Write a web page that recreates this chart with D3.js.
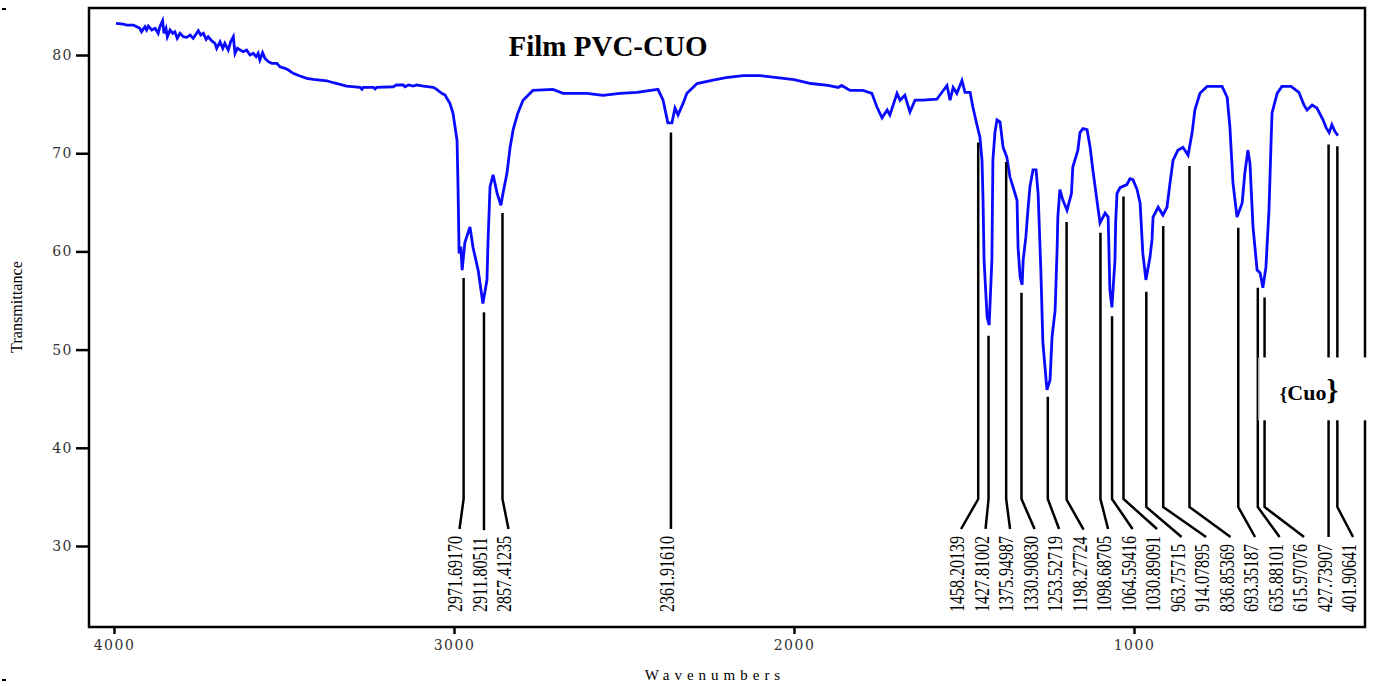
<html lang="en">
<head>
    <title>Film PVC-CUO</title>
    <style>
        body {
            margin: 0;
            background: #fff;
        }

        .tick text {
            font-family: "DejaVu Serif", serif;
            font-size: 14px;
            letter-spacing: 1.5px;
            fill: #333;
        }

        .tick line {
            stroke: #000;
            stroke-width: 2.5px;
        }

        .peak-label {
            font-family: "Liberation Serif", serif;
            font-size: 20px;
            fill: #000;
        }
    </style>
</head>
<body>
<div id="chart"></div>
<script src="https://cdn.jsdelivr.net/npm/d3@7"></script>
<script>
    // spectrum (wavenumber, transmittance)
    const wavenumbers = [3994, 3973, 3963, 3943, 3933, 3924, 3919, 3909, 3904, 3899, 3889, 3879, 3870, 3865, 3857, 3853,
        3847, 3843, 3835, 3827, 3821, 3814, 3806, 3796, 3786, 3776, 3767, 3757, 3752, 3745, 3737, 3729, 3723, 3713, 3703,
        3698, 3688, 3680, 3674, 3664, 3657, 3649, 3644, 3637, 3629, 3620, 3610, 3600, 3590, 3582, 3576, 3571, 3563, 3556,
        3546, 3536, 3521, 3512, 3497, 3487, 3473, 3453, 3433, 3414, 3394, 3374, 3355, 3335, 3316, 3276, 3271, 3267, 3237,
        3232, 3227, 3179, 3169, 3149, 3144, 3134, 3120, 3110, 3090, 3061, 3051, 3036, 3026, 3021, 3012, 3003, 2991, 2988,
        2985, 2980, 2976, 2968, 2953, 2944, 2929, 2915, 2903, 2900, 2894, 2885, 2873, 2862, 2856, 2844, 2835, 2826, 2812,
        2797, 2768, 2709, 2679, 2609, 2562, 2512, 2462, 2400, 2385, 2371, 2359, 2350, 2341, 2326, 2315, 2285, 2238, 2200,
        2150, 2100, 2050, 2000, 1950, 1900, 1870, 1860, 1835, 1797, 1771, 1756, 1741, 1726, 1718, 1697, 1688, 1674, 1659,
        1644, 1621, 1580, 1550, 1541, 1532, 1521, 1506, 1497, 1482, 1474, 1462, 1453, 1447, 1444, 1441, 1432, 1426, 1418,
        1415, 1409, 1403, 1394, 1385, 1374, 1365, 1350, 1344, 1341, 1335, 1329, 1326, 1318, 1312, 1306, 1297, 1288, 1282,
        1274, 1268, 1256, 1247, 1241, 1232, 1226, 1224, 1218, 1209, 1197, 1184, 1180, 1165, 1159, 1150, 1138, 1129, 1121,
        1109, 1100, 1085, 1076, 1071, 1065, 1056, 1054, 1050, 1041, 1021, 1012, 1003, 991, 982, 974, 965, 953, 947, 944,
        929, 915, 903, 894, 885, 871, 856, 841, 829, 821, 806, 785, 741, 726, 718, 709, 697, 682, 674, 665, 659, 650, 638,
        629, 621, 612, 603, 597, 594, 579, 565, 538, 515, 500, 491, 476, 462, 444, 435, 426, 418, 409, 400];
    const transmittance = [83.23, 83.16, 83.05, 83.05, 82.88, 82.72, 82.37, 82.88, 82.55, 82.95, 82.55, 82.72, 82.21,
        82.88, 83.49, 82.21, 82.72, 81.86, 82.55, 82.21, 82.37, 81.7, 82.21, 81.86, 81.8, 82.04, 81.7, 82.21, 82.47, 82.04,
        82.21, 81.6, 81.86, 81.46, 81.19, 80.68, 81.35, 80.68, 81.19, 80.51, 81.35, 81.86, 80.17, 80.68, 80.51, 80.34,
        80.51, 80.0, 80.17, 79.83, 80.17, 79.49, 80.23, 79.66, 79.32, 79.15, 79.15, 78.81, 78.65, 78.47, 78.14, 77.86,
        77.63, 77.53, 77.45, 77.38, 77.18, 77.01, 76.84, 76.71, 76.51, 76.71, 76.71, 76.54, 76.71, 76.77, 76.95, 76.95,
        76.77, 76.95, 76.84, 76.95, 76.84, 76.71, 76.51, 76.1, 75.93, 75.59, 75.08, 74.1, 71.3, 66.3, 59.8, 60.5, 58.1,
        60.9, 62.5, 60.4, 58.1, 54.7, 57.1, 60.9, 66.6, 67.8, 65.9, 64.7, 65.9, 68.0, 70.6, 72.4, 74.1, 75.4, 76.4, 76.5,
        76.1, 76.1, 75.9, 76.1, 76.2, 76.5, 75.4, 73.1, 73.1, 74.6, 73.9, 75.1, 76.1, 77.1, 77.45, 77.7, 77.9, 77.9, 77.7,
        77.5, 77.1, 76.9, 76.7, 76.9, 76.4, 76.4, 76.1, 74.7, 73.6, 74.4, 73.9, 76.1, 75.4, 75.9, 74.2, 75.4, 75.4, 75.5,
        76.9, 75.4, 76.7, 76.1, 77.4, 76.2, 76.2, 74.7, 72.9, 71.6, 69.3, 65.2, 59.1, 53.3, 52.5, 59.1, 69.3, 72.1, 73.4,
        73.2, 70.6, 69.6, 67.6, 65.9, 65.2, 60.4, 57.4, 56.6, 59.1, 61.5, 64.2, 66.6, 68.3, 68.3, 65.9, 58.1, 50.7, 45.9,
        46.9, 51.3, 54.0, 60.4, 63.5, 66.3, 65.2, 64.2, 65.9, 68.6, 70.3, 72.1, 72.5, 72.4, 70.6, 68.3, 65.2, 62.9, 63.9,
        63.5, 56.1, 54.3, 59.1, 62.9, 65.9, 66.5, 66.8, 67.4, 67.3, 66.3, 64.9, 59.8, 57.1, 59.4, 61.2, 63.5, 64.5, 63.7,
        64.5, 67.0, 69.3, 70.3, 70.6, 69.8, 72.1, 74.4, 76.1, 76.8, 76.8, 75.7, 72.7, 67.0, 63.5, 64.9, 68.0, 70.3, 69.0,
        62.5, 58.1, 57.8, 56.3, 58.4, 64.2, 71.0, 74.1, 76.1, 76.8, 76.8, 76.2, 74.9, 74.4, 74.9, 74.6, 73.4, 72.6, 72.1,
        72.9, 72.2, 71.8];

    // peak picks and the transmittance where each marker line starts
    const peakLabels = ["2971.69170", "2911.80511", "2857.41235", "2361.91610", "1458.20139", "1427.81002",
        "1375.94987", "1330.90830", "1253.52719", "1198.27724", "1098.68705", "1064.59416", "1030.89091", "963.75715",
        "914.07895", "836.85369", "693.35187", "635.88101", "615.97076", "427.73907", "401.90641"];
    const peakTops = [57.3, 53.8, 63.9, 72.1, 71.1, 51.4, 69.1, 55.8, 45.2, 63.0, 61.9, 53.4, 65.6, 55.9, 62.6, 68.7,
        62.4, 56.3, 55.3, 70.9, 70.7];

    const yTicks = [30, 40, 50, 60, 70, 80];
    const xTicks = [4000, 3000, 2000, 1000];

    const width = 1373;
    const height = 686;
    const plotLeft = 89, plotRight = 1365, plotTop = 8, plotBottom = 627;

    const x = d3.scaleLinear().domain([4073.5, 320.6]).range([plotLeft, plotRight]);
    const y = d3.scaleLinear().domain([21.75, 84.79]).range([plotBottom, plotTop]);

    const svg = d3.select("#chart").append("svg")
        .attr("width", width)
        .attr("height", height);

    // axes
    const yAxis = svg.append("g")
        .attr("transform", "translate(" + plotLeft + ",0)")
        .call(d3.axisLeft(y).tickValues(yTicks).tickSize(13).tickPadding(3));
    yAxis.select(".domain").remove();

    const xAxis = svg.append("g")
        .attr("transform", "translate(0," + plotBottom + ")")
        .call(d3.axisBottom(x).tickValues(xTicks).tickSize(7).tickPadding(6).tickFormat(d3.format("d")));
    xAxis.select(".domain").remove();

    svg.append("rect")
        .attr("x", plotLeft)
        .attr("y", plotTop)
        .attr("width", plotRight - plotLeft)
        .attr("height", plotBottom - plotTop)
        .attr("fill", "none")
        .attr("stroke", "#000")
        .attr("stroke-width", 2.5);

    // spectrum
    const spectrum = wavenumbers.map((w, i) => [w, transmittance[i]]);
    svg.append("path")
        .datum(spectrum)
        .attr("fill", "none")
        .attr("stroke", "#0a0aff")
        .attr("stroke-width", 2.8)
        .attr("stroke-linejoin", "miter")
        .attr("d", d3.line().x(d => x(d[0])).y(d => y(d[1])));

    // peak labels: group close peaks, spread them evenly
    const labelGap = 24.5;
    const labelAnchors = ["2911.80511", "427.73907"];
    const labelBottom = 612;
    const peaks = peakLabels.map((s, i) => ({label: s, px: x(+s), top: peakTops[i]}));

    const clusters = [];
    peaks.forEach((p, i) => {
        if (i === 0 || p.px - peaks[i - 1].px > 100) clusters.push([]);
        clusters[clusters.length - 1].push(p);
    });
    clusters.forEach(c => {
        let a = c.findIndex(p => labelAnchors.includes(p.label));
        let start;
        if (a < 0) start = d3.mean(c, p => p.px) - (c.length - 1) / 2 * labelGap;
        else start = c[a].px - a * labelGap;
        c.forEach((p, i) => p.lx = start + i * labelGap);
    });

    const marks = svg.append("g");
    peaks.forEach(p => {
        const t = marks.append("text")
            .attr("class", "peak-label")
            .attr("transform", "translate(" + (p.lx + 3) + "," + labelBottom + ") rotate(-90) scale(0.8,1)")
            .text(p.label);
        const len = t.node().getComputedTextLength() * 0.8;
        const endY = labelBottom - len - 7;
        const breakY = endY - 30;
        marks.append("path")
            .attr("fill", "none")
            .attr("stroke", "#000")
            .attr("stroke-width", 2.5)
            .attr("d", "M" + p.px + "," + y(p.top) + "V" + breakY + "L" + p.lx + "," + endY);
    });

    // {Cuo} note box
    const bx = x(633), by = y(49.2), bh = y(42.8) - y(49.2);
    svg.append("rect")
        .attr("x", bx)
        .attr("y", by)
        .attr("width", width - bx)
        .attr("height", bh)
        .attr("fill", "#fff");
    svg.append("line")
        .attr("x1", bx).attr("x2", bx)
        .attr("y1", by).attr("y2", by + bh)
        .attr("stroke", "#aaa")
        .attr("stroke-width", 1.5);
    const note = svg.append("text")
        .attr("x", bx + 21)
        .attr("y", by + 43)
        .attr("font-family", "Liberation Serif, serif")
        .attr("font-weight", "bold")
        .attr("fill", "#000");
    note.append("tspan").attr("font-size", 19).text("{");
    note.append("tspan").attr("font-size", 22).text("Cuo");
    note.append("tspan").attr("font-size", 30).text("}");

    // titles
    svg.append("text")
        .attr("x", 608)
        .attr("y", 56)
        .attr("text-anchor", "middle")
        .attr("font-family", "Liberation Serif, serif")
        .attr("font-weight", "bold")
        .attr("font-size", 29)
        .text("Film PVC-CUO");

    svg.append("text")
        .attr("x", 715)
        .attr("y", 680)
        .attr("text-anchor", "middle")
        .attr("font-family", "Liberation Serif, serif")
        .attr("font-size", 15)
        .attr("letter-spacing", 5)
        .text("Wavenumbers");

    svg.append("text")
        .attr("text-anchor", "middle")
        .attr("font-family", "Liberation Serif, serif")
        .attr("font-size", 17)
        .attr("transform", "translate(22,307) rotate(-90) scale(0.95,1)")
        .text("Transmittance");

    // stray dashes at the left edge of the original scan
    svg.append("rect").attr("x", 2).attr("y", 8).attr("width", 4).attr("height", 2).attr("fill", "#000");
    svg.append("rect").attr("x", 2).attr("y", 679).attr("width", 4).attr("height", 2).attr("fill", "#000");
</script>
</body>
</html>
